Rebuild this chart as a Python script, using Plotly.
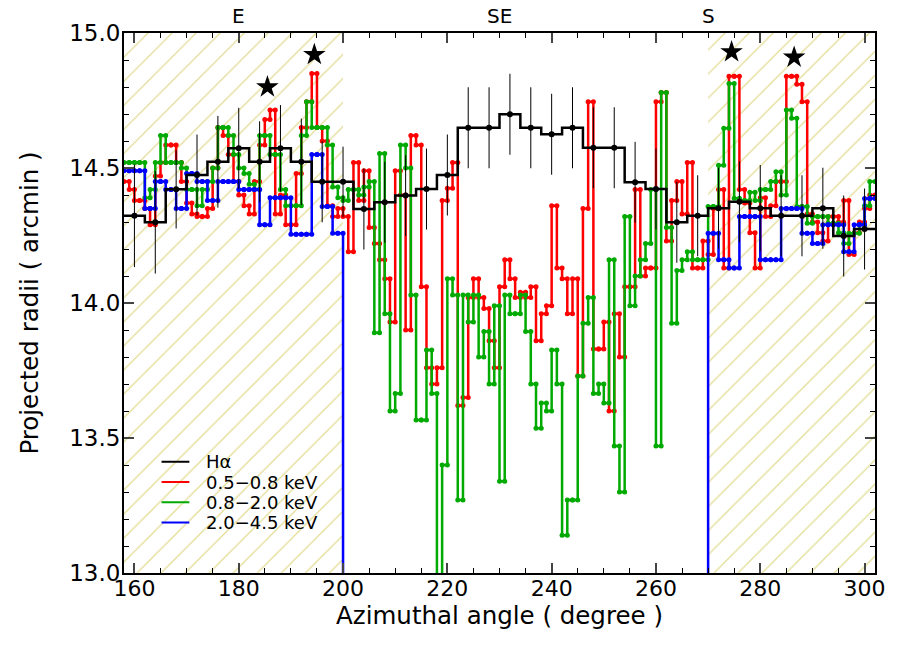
import plotly.graph_objects as go

# ---------------- data ----------------
# X-ray bands: 1-degree bins, left edges 158 ... 301
bin_start = 158
bin_width = 1
red_05_08 = [
    14.45, 14.42, 14.38, 14.38, 14.35, 14.29, 14.47, 14.52, 14.585, 14.585,   # 158-167
    14.52, 14.45, 14.37, 14.33, 14.32, 14.32, 14.35, 14.50, 14.65, 14.62,     # 168-177
    14.55, 14.45, 14.40, 14.36, 14.33, 14.45, 14.585, 14.68, 14.715, 14.33,   # 178-187
    14.40, 14.29, 14.29, 14.48, 14.65, 14.745, 14.85, 14.65, 14.60, 14.36,    # 188-197
    14.32, 14.35, 14.32, 14.19, 14.52, 14.38, 14.49, 14.28, 14.22, 14.16,     # 198-207
    14.09, 13.93, 14.49, 14.40, 13.90, 14.62, 14.585, 14.06, 13.76, 13.70,    # 208-217
    13.76, 14.38, 14.425, 14.52, 13.62, 13.65, 14.02, 14.09, 14.02, 13.98,    # 218-227
    13.86, 13.76, 14.06, 14.16, 14.09, 14.02, 14.04, 14.02, 14.06, 13.86,     # 228-237
    13.96, 13.99, 14.36, 14.13, 14.09, 13.96, 14.09, 13.73, 14.35, 14.745,    # 238-247
    13.83, 13.83, 13.93, 13.60, 13.96, 13.80, 14.06, 14.06, 14.42, 14.10,     # 248-257
    14.13, 14.13, 14.745, 14.78, 14.23, 14.38, 14.45, 14.33, 14.52, 14.13,    # 258-267
    14.13, 14.23, 14.18, 14.35, 14.42, 14.13, 14.84, 14.84, 14.42, 14.37,     # 268-277
    14.26, 14.13, 14.39, 14.32, 14.36, 14.45, 14.45, 14.84, 14.84, 14.81,     # 278-287
    14.745, 14.33, 14.30, 14.26, 14.23, 14.32, 14.32, 14.30, 14.38, 14.18,    # 288-297
    14.26, 14.30, 14.35, 14.40,                                               # 298-301
]
green_08_20 = [
    14.52, 14.52, 14.52, 14.52, 14.39, 14.42, 14.52, 14.62, 14.52, 14.52,     # 158-167
    14.52, 14.50, 14.42, 14.42, 14.36, 14.42, 14.45, 14.50, 14.65, 14.65,     # 168-177
    14.62, 14.55, 14.50, 14.48, 14.44, 14.42, 14.62, 14.62, 14.55, 14.55,     # 178-187
    14.42, 14.36, 14.36, 14.36, 14.62, 14.745, 14.65, 14.65, 14.65, 14.585,   # 188-197
    14.43, 14.39, 14.38, 14.42, 14.42, 14.40, 14.43, 14.45, 13.89, 14.554,    # 198-207
    13.96, 13.60, 13.665, 14.585, 14.50, 14.03, 13.567, 13.567, 13.826, 13.665,  # 208-217
    12.90, 13.40, 14.09, 14.03, 13.27, 14.03, 13.93, 14.03, 13.80, 13.894,    # 218-227
    13.70, 13.99, 13.34, 14.03, 13.96, 13.96, 14.03, 13.894, 13.70, 13.536,   # 228-237
    13.63, 13.60, 13.826, 13.70, 13.14, 13.27, 13.27, 13.73, 13.925, 14.02,   # 238-247
    13.665, 13.70, 13.63, 14.16, 13.47, 13.30, 14.32, 13.99, 14.10, 14.16,    # 248-257
    14.22, 14.42, 13.47, 14.78, 14.28, 13.925, 14.12, 14.16, 14.19, 14.16,    # 258-267
    14.16, 14.16, 14.357, 14.357, 14.51, 14.647, 14.813, 14.388, 14.38, 14.38,  # 268-277
    14.41, 14.38, 14.42, 14.42, 14.45, 14.486, 14.40, 14.715, 14.684, 14.357,   # 278-287
    14.357, 14.295, 14.32, 14.32, 14.32, 14.295, 14.295, 14.26, 14.22, 14.258,  # 288-297
    14.258, 14.29, 14.36, 14.45,                                               # 298-301
]
# 0 = band not covered (outside the plotted range)
blue_20_45 = [
    14.49, 14.49, 14.49, 14.49, 14.35, 14.35, 14.45, 14.45, 14.42, 14.42,     # 158-167
    14.35, 14.35, 14.48, 14.48, 14.45, 14.45, 14.38, 14.38, 14.45, 14.45,     # 168-177
    14.45, 14.45, 14.42, 14.42, 14.42, 14.42, 14.29, 14.29, 14.39, 14.39,     # 178-187
    14.39, 14.39, 14.255, 14.255, 14.255, 14.255, 14.55, 14.55, 14.357, 14.357,  # 188-197
    14.258, 14.258,                                                           # 198-199
] + [0] * 70 + [                                                              # 200-269
    14.258, 14.258, 14.16, 14.16, 14.13, 14.13, 14.32, 14.32, 14.32, 14.32,   # 270-279
    14.16, 14.16, 14.16, 14.16, 14.35, 14.35, 14.35, 14.35, 14.258, 14.258,   # 280-289
    14.22, 14.22, 14.29, 14.29, 14.29, 14.29, 14.19, 14.19, 14.29, 14.29,     # 290-299
    14.387, 14.387,                                                           # 300-301
]

# H-alpha: 4-degree bins
ha_width = 4
ha_centers = list(range(160, 301, 4))
ha_radius = [
    14.323, 14.299, 14.421, 14.474, 14.523, 14.573, 14.523, 14.573, 14.523, 14.449,
    14.449, 14.348, 14.373, 14.398, 14.422, 14.474, 14.649, 14.649, 14.699, 14.649,
    14.625, 14.649, 14.575, 14.575, 14.447, 14.422, 14.299, 14.323, 14.351, 14.375,
    14.351, 14.323, 14.323, 14.351, 14.248, 14.274,
]
ha_err = [
    0.19, 0.19, 0.145, 0.15, 0.17, 0.15, 0.15, 0.16, 0.16, 0.15,
    0.13, 0.15, 0.15, 0.15, 0.15, 0.15, 0.15, 0.15, 0.15, 0.15,
    0.15, 0.15, 0.15, 0.15, 0.15, 0.15, 0.15, 0.15, 0.15, 0.15,
    0.16, 0.15, 0.15, 0.15, 0.15, 0.15,
]

# hatched (masked) azimuth ranges
masked_ranges = [(158, 200), (270, 302)]

# features marked with stars
star_angle = [185.5, 194.5, 274.5, 286.5]
star_radius = [14.80, 14.92, 14.93, 14.91]

# direction labels on top
dir_labels = ["E", "SE", "S"]
dir_angles = [180, 230, 270]

legend_names = ["Hα", "0.5−0.8 keV", "0.8−2.0 keV", "2.0−4.5 keV"]
legend_colors = ["black", "rgb(255,0,0)", "rgb(0,170,0)", "rgb(0,0,255)"]

x_range = [158, 302]
y_range = [13.0, 15.0]
x_ticks = [160, 180, 200, 220, 240, 260, 280, 300]
y_ticks = [13.0, 13.5, 14.0, 14.5, 15.0]


def steps(starts, width, vals):
    xs, ys = [], []
    for s, v in zip(starts, vals):
        xs += [s, s + width]
        ys += [v, v]
    return xs, ys


fig = go.Figure()

HATCH = "rgb(195,185,40)"
for (a, b) in masked_ranges:
    fig.add_trace(go.Scatter(
        x=[a, b, b, a, a], y=[y_range[0], y_range[0], y_range[1], y_range[1], y_range[0]],
        mode="lines", fill="toself", line=dict(width=0), fillcolor="rgba(0,0,0,0)",
        fillpattern=dict(shape="/", fgcolor=HATCH, bgcolor="rgba(0,0,0,0)", size=17, solidity=0.075),
        showlegend=False, hoverinfo="skip"))

starts = [bin_start + i * bin_width for i in range(len(red_05_08))]
series = [
    (red_05_08, legend_colors[1]),
    (green_08_20, legend_colors[2]),
    (blue_20_45, legend_colors[3]),
]
for vals, col in series:
    xs, ys = steps(starts, bin_width, vals)
    fig.add_trace(go.Scatter(x=xs, y=ys, mode="lines+markers",
                             line=dict(color=col, width=2.5),
                             marker=dict(color=col, size=5),
                             showlegend=False, hoverinfo="skip"))

ha_starts = [c - ha_width / 2 for c in ha_centers]
xs, ys = steps(ha_starts, ha_width, ha_radius)
fig.add_trace(go.Scatter(x=xs, y=ys, mode="lines", line=dict(color="black", width=2.5),
                         showlegend=False, hoverinfo="skip"))
fig.add_trace(go.Scatter(x=ha_centers, y=ha_radius, mode="markers",
                         marker=dict(color="black", size=6),
                         error_y=dict(type="data", array=ha_err, color="black", thickness=1, width=0),
                         showlegend=False, hoverinfo="skip"))

fig.add_trace(go.Scatter(x=star_angle, y=star_radius, mode="markers",
                         marker=dict(symbol="star", color="black", size=17),
                         showlegend=False, hoverinfo="skip"))

# legend drawn inside the plot (lower left)
leg_x0, leg_x1, leg_text_x = 0.050, 0.087, 0.106
leg_y_top, leg_dy = 0.206, 0.0375
for i, (name, col) in enumerate(zip(legend_names, legend_colors)):
    yy = leg_y_top - i * leg_dy
    fig.add_shape(type="line", xref="paper", yref="paper", x0=leg_x0, x1=leg_x1, y0=yy, y1=yy,
                  line=dict(color=col, width=2))
    fig.add_annotation(x=leg_text_x, y=yy, xref="paper", yref="paper", text=name,
                       showarrow=False, xanchor="left", yanchor="middle",
                       font=dict(size=18, color="black"))

for lab, ang in zip(dir_labels, dir_angles):
    fig.add_annotation(x=ang, y=1, xref="x", yref="paper", text=lab, showarrow=False,
                       yanchor="bottom", yshift=3, font=dict(size=20, color="black"))

FONT = "DejaVu Sans"
fig.update_layout(
    width=898, height=655,
    margin=dict(l=124, r=18, t=33, b=82),
    paper_bgcolor="white", plot_bgcolor="white",
    font=dict(family=FONT, size=20, color="black"),
    showlegend=False,
    xaxis=dict(range=x_range, tickvals=x_ticks, ticks="inside", ticklen=10, tickwidth=1.5,
               showline=True, linewidth=2, linecolor="black", mirror="ticks",
               showgrid=False, zeroline=False, ticklabelstandoff=-5,
               minor=dict(dtick=5, ticks="inside", ticklen=5, tickwidth=1.2, tickcolor="black"),
               title=dict(text="Azimuthal angle ( degree )", standoff=0, font=dict(size=24.5)),
               tickfont=dict(size=22)),
    yaxis=dict(range=y_range, tickvals=y_ticks, tickformat=".1f", ticks="inside", ticklen=10,
               tickwidth=1.5, showline=True, linewidth=2, linecolor="black", mirror="ticks",
               showgrid=False, zeroline=False, ticklabelstandoff=-3,
               minor=dict(dtick=0.1, ticks="inside", ticklen=5, tickwidth=1.2, tickcolor="black"),
               title=dict(text="Projected radii ( arcmin )", standoff=24, font=dict(size=24.5)),
               tickfont=dict(size=23)),
)

fig.write_html("out.html")
